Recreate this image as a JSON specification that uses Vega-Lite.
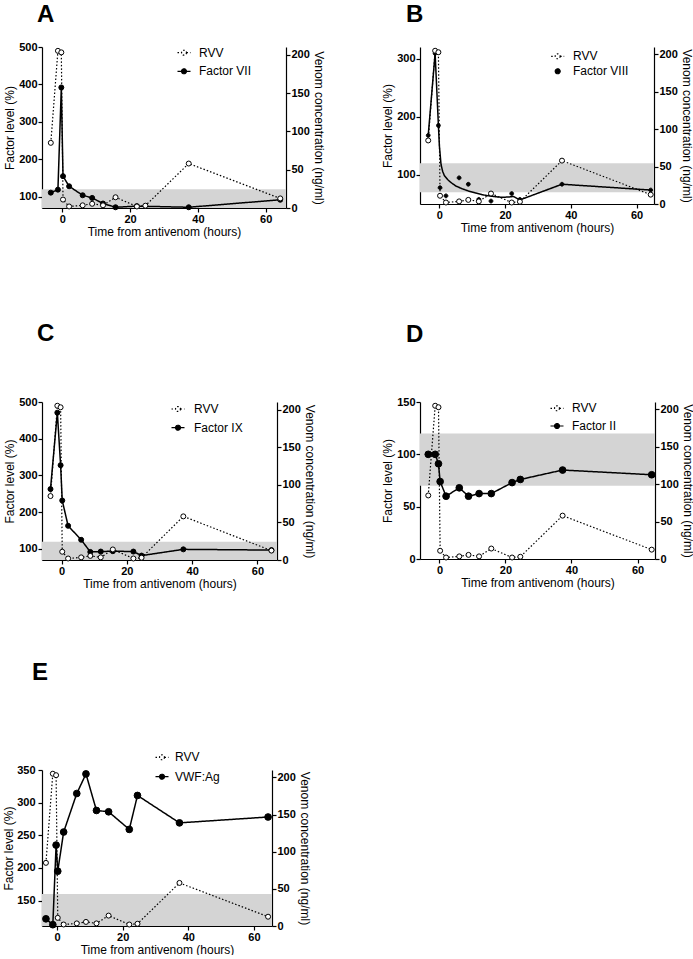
{
"$schema": "https://vega.github.io/schema/vega-lite/v6.json",
"padding": {"left": 2, "top": 3, "right": 0, "bottom": 0},
"datasets": {
"rvv": [
{"t":-3.4,"v":85,"series":"RVV"},{"t":-1.3,"v":205,"series":"RVV"},{"t":-0.3,"v":203,"series":"RVV"},{"t":0.2,"v":11,"series":"RVV"},{"t":2,"v":2,"series":"RVV"},{"t":6,"v":3.5,"series":"RVV"},{"t":8.8,"v":5.5,"series":"RVV"},{"t":12,"v":3.5,"series":"RVV"},{"t":15.7,"v":14,"series":"RVV"},{"t":22,"v":2,"series":"RVV"},{"t":24.5,"v":3,"series":"RVV"},{"t":37.3,"v":58,"series":"RVV"},{"t":64.3,"v":12.5,"series":"RVV"}],
"factorA": [
{"t":-3.4,"v":111,"series":"Factor VII"},{"t":-1.3,"v":119,"series":"Factor VII"},{"t":-0.3,"v":392,"series":"Factor VII"},{"t":0.2,"v":155,"series":"Factor VII"},{"t":2,"v":128,"series":"Factor VII"},{"t":6,"v":104,"series":"Factor VII"},{"t":8.8,"v":97,"series":"Factor VII"},{"t":12,"v":82,"series":"Factor VII"},{"t":15.7,"v":72,"series":"Factor VII"},{"t":22,"v":75,"series":"Factor VII"},{"t":37.3,"v":72,"series":"Factor VII"},{"t":64.3,"v":92,"series":"Factor VII"}],
"factorB": [
{"t":-3.4,"v":168,"series":"Factor VIII"},{"t":-1.3,"v":309,"series":"Factor VIII"},{"t":-0.3,"v":185,"series":"Factor VIII"},{"t":0.2,"v":78,"series":"Factor VIII"},{"t":2,"v":64,"series":"Factor VIII"},{"t":6,"v":95,"series":"Factor VIII"},{"t":8.8,"v":84,"series":"Factor VIII"},{"t":12,"v":58,"series":"Factor VIII"},{"t":15.7,"v":55,"series":"Factor VIII"},{"t":22,"v":68,"series":"Factor VIII"},{"t":24.5,"v":58,"series":"Factor VIII"},{"t":37.3,"v":84,"series":"Factor VIII"},{"t":64.3,"v":74,"series":"Factor VIII"}],
"curveB": [
{"t":-3.4,"v":168,"series":"Factor VIII"},{"t":-1.3,"v":309,"series":"Factor VIII"},{"t":-0.3,"v":185,"series":"Factor VIII"},{"t":0,"v":150,"series":"Factor VIII"},{"t":0.5,"v":118,"series":"Factor VIII"},{"t":1,"v":106,"series":"Factor VIII"},{"t":1.5,"v":99,"series":"Factor VIII"},{"t":2.5,"v":92,"series":"Factor VIII"},{"t":3.5,"v":87,"series":"Factor VIII"},{"t":5,"v":81,"series":"Factor VIII"},{"t":7,"v":76,"series":"Factor VIII"},{"t":9,"v":72,"series":"Factor VIII"},{"t":11,"v":69,"series":"Factor VIII"},{"t":13,"v":66,"series":"Factor VIII"},{"t":15,"v":64,"series":"Factor VIII"},{"t":17,"v":62.5,"series":"Factor VIII"},{"t":19,"v":61.5,"series":"Factor VIII"},{"t":21,"v":62,"series":"Factor VIII"},{"t":22.5,"v":63,"series":"Factor VIII"},{"t":24.5,"v":57,"series":"Factor VIII"},{"t":37.3,"v":84,"series":"Factor VIII"},{"t":64.3,"v":74,"series":"Factor VIII"}],
"factorC": [
{"t":-3.4,"v":263,"series":"Factor IX"},{"t":-1.3,"v":471,"series":"Factor IX"},{"t":-0.3,"v":328,"series":"Factor IX"},{"t":0.2,"v":232,"series":"Factor IX"},{"t":2,"v":163,"series":"Factor IX"},{"t":6,"v":125,"series":"Factor IX"},{"t":8.8,"v":92,"series":"Factor IX"},{"t":12,"v":93,"series":"Factor IX"},{"t":15.7,"v":94,"series":"Factor IX"},{"t":22,"v":93,"series":"Factor IX"},{"t":24.5,"v":82,"series":"Factor IX"},{"t":37.3,"v":99,"series":"Factor IX"},{"t":64.3,"v":97,"series":"Factor IX"}],
"factorD": [
{"t":-3.4,"v":100,"series":"Factor II"},{"t":-1.3,"v":100,"series":"Factor II"},{"t":-0.3,"v":91,"series":"Factor II"},{"t":0.2,"v":74,"series":"Factor II"},{"t":2,"v":60,"series":"Factor II"},{"t":6,"v":68,"series":"Factor II"},{"t":8.8,"v":60,"series":"Factor II"},{"t":12,"v":62.5,"series":"Factor II"},{"t":15.7,"v":62.5,"series":"Factor II"},{"t":22,"v":73,"series":"Factor II"},{"t":24.5,"v":76,"series":"Factor II"},{"t":37.3,"v":85,"series":"Factor II"},{"t":64.3,"v":80.5,"series":"Factor II"}],
"factorE": [
{"t":-3.4,"v":122,"series":"VWF:Ag"},{"t":-1.3,"v":113,"series":"VWF:Ag"},{"t":-0.3,"v":235,"series":"VWF:Ag"},{"t":0.2,"v":195,"series":"VWF:Ag"},{"t":2,"v":255,"series":"VWF:Ag"},{"t":6,"v":314,"series":"VWF:Ag"},{"t":8.8,"v":344,"series":"VWF:Ag"},{"t":12,"v":288,"series":"VWF:Ag"},{"t":15.7,"v":286,"series":"VWF:Ag"},{"t":22,"v":259,"series":"VWF:Ag"},{"t":24.5,"v":311,"series":"VWF:Ag"},{"t":37.3,"v":269,"series":"VWF:Ag"},{"t":64.3,"v":278,"series":"VWF:Ag"}]
},
"resolve": {"scale": {"strokeDash": "independent", "fill": "independent", "shape": "independent"}, "legend": {"strokeDash": "independent", "fill": "independent", "shape": "independent"}},
"vconcat": [
{"resolve": {"scale": {"strokeDash": "independent", "fill": "independent", "shape": "independent"}, "legend": {"strokeDash": "independent", "fill": "independent", "shape": "independent"}},
"vconcat": [
{"resolve": {"scale": {"strokeDash": "independent", "fill": "independent", "shape": "independent"}, "legend": {"strokeDash": "independent", "fill": "independent", "shape": "independent"}},
"hconcat": [
{
"width": 244, "height": 161,
"title": {"text": "A", "dx": -5, "offset": 14},
"resolve": {"scale": {"y": "independent"}},
"layer": [
{"layer": [
{"data": {"values": [{"lo": 70, "hi": 120}]}, "mark": {"type": "rect", "color": "#d4d4d4", "clip": true},
 "encoding": {"y": {"field": "lo", "type": "quantitative", "scale": {"domain": [70, 500], "nice": false, "zero": false}, "axis": {"values": [100,200,300,400,500], "tickCount": 20, "title": "Factor level (%)", "labelOverlap": false}}, "y2": {"field": "hi"}}},
{"data": {"name": "factorA"}, "mark": {"type": "line", "color": "black", "strokeWidth": 1.5},
 "encoding": {"x": {"field": "t", "type": "quantitative", "scale": {"domain": [-6, 66], "nice": false, "zero": false}, "axis": {"values": [0,20,40,60], "tickCount": 20, "title": "Time from antivenom (hours)", "labelOverlap": false}},
  "y": {"field": "v", "type": "quantitative"},
  "strokeDash": {"field": "series", "type": "nominal", "scale": {"domain": ["RVV","Factor VII"], "range": [[1.5,2],[1,0]]},
   "legend": {"orient": "none", "legendX": 134.5, "legendY": -1.8, "title": null, "symbolType": "M-1,0L-0.38,0M0.38,0L1,0M0.38,0A0.38,0.38,0,1,1,-0.38,0A0.38,0.38,0,1,1,0.38,0", "symbolSize": 169, "symbolStrokeColor": "black", "symbolStrokeWidth": 1.2, "labelOffset": 7.5, "rowPadding": 4.6, "padding": 0}}}},
{"data": {"name": "factorA"}, "mark": {"type": "point", "filled": true, "stroke": "black", "strokeWidth": 1, "size": 25, "opacity": 1},
 "encoding": {"x": {"field": "t", "type": "quantitative"}, "y": {"field": "v", "type": "quantitative"},
  "fill": {"field": "series", "type": "nominal", "scale": {"domain": ["RVV","Factor VII"], "range": ["white","black"]},
   "legend": {"orient": "none", "legendX": 134.5, "legendY": -1.8, "title": null, "symbolType": "M-1,0L-0.38,0M0.38,0L1,0M0.38,0A0.38,0.38,0,1,1,-0.38,0A0.38,0.38,0,1,1,0.38,0", "symbolSize": 169, "symbolStrokeColor": "black", "symbolStrokeWidth": 1.2, "labelOffset": 7.5, "rowPadding": 4.6, "padding": 0}}}}
]},
{"data": {"name": "rvv"}, "layer": [
{"mark": {"type": "line", "color": "black", "strokeWidth": 1.2},
 "encoding": {"x": {"field": "t", "type": "quantitative"}, "y": {"field": "v", "type": "quantitative", "scale": {"domain": [0, 210], "nice": false}, "axis": {"orient": "right", "values": [0,50,100,150,200], "tickCount": 20, "title": "Venom concentration (ng/ml)", "labelOverlap": false}},
  "strokeDash": {"field": "series", "type": "nominal", "scale": {"domain": ["RVV","Factor VII"], "range": [[1.5,2],[1,0]]}}}},
{"mark": {"type": "point", "filled": true, "stroke": "black", "strokeWidth": 1, "size": 25, "opacity": 1},
 "encoding": {"x": {"field": "t", "type": "quantitative"}, "y": {"field": "v", "type": "quantitative"},
  "fill": {"field": "series", "type": "nominal", "scale": {"domain": ["RVV","Factor VII"], "range": ["white","black"]}}}}
]}
]
},
{
"width": 234, "height": 157,
"title": {"text": "B", "dx": -14, "offset": 19},
"resolve": {"scale": {"y": "independent"}},
"layer": [
{"layer": [
{"data": {"values": [{"lo": 70, "hi": 120}]}, "mark": {"type": "rect", "color": "#d4d4d4", "clip": true},
 "encoding": {"y": {"field": "lo", "type": "quantitative", "scale": {"domain": [50, 320], "nice": false, "zero": false}, "axis": {"values": [100,200,300], "tickCount": 20, "title": "Factor level (%)", "labelOverlap": false}}, "y2": {"field": "hi"}}},
{"data": {"name": "curveB"}, "mark": {"type": "line", "color": "black", "strokeWidth": 1.5},
 "encoding": {"x": {"field": "t", "type": "quantitative", "scale": {"domain": [-5.9, 65.3], "nice": false, "zero": false}, "axis": {"values": [0,20,40,60], "tickCount": 20, "title": "Time from antivenom (hours)", "labelOverlap": false}},
  "y": {"field": "v", "type": "quantitative"},
  "strokeDash": {"field": "series", "type": "nominal", "scale": {"domain": ["RVV","Factor VIII"], "range": [[1.5,2],[1,0]]},
   "legend": {"orient": "none", "legendX": 130.2, "legendY": 1.8, "title": null, "symbolSize": 169, "symbolStrokeColor": "black", "symbolStrokeWidth": 1.2, "labelOffset": 7.8, "rowPadding": 1, "padding": 0}}}},
{"data": {"name": "factorB"}, "mark": {"type": "point", "filled": true, "stroke": "black", "strokeWidth": 1, "size": 100, "opacity": 1},
 "encoding": {"x": {"field": "t", "type": "quantitative"}, "y": {"field": "v", "type": "quantitative"},
  "fill": {"field": "series", "type": "nominal", "scale": {"domain": ["RVV","Factor VIII"], "range": ["white","black"]},
   "legend": {"orient": "none", "legendX": 130.2, "legendY": 1.8, "title": null, "symbolSize": 169, "symbolStrokeColor": "black", "symbolStrokeWidth": 1.2, "labelOffset": 7.8, "rowPadding": 1, "padding": 0}},
  "shape": {"field": "series", "type": "nominal", "scale": {"domain": ["RVV","Factor VIII"], "range": ["M-1,0L-0.38,0M0.38,0L1,0M0.38,0A0.38,0.38,0,1,1,-0.38,0A0.38,0.38,0,1,1,0.38,0", "M0.38,0A0.38,0.38,0,1,1,-0.38,0A0.38,0.38,0,1,1,0.38,0"]},
   "legend": {"orient": "none", "legendX": 130.2, "legendY": 1.8, "title": null, "symbolSize": 169, "symbolStrokeColor": "black", "symbolStrokeWidth": 1.2, "labelOffset": 7.8, "rowPadding": 1, "padding": 0}}}}
]},
{"data": {"name": "rvv"}, "layer": [
{"mark": {"type": "line", "color": "black", "strokeWidth": 1.2},
 "encoding": {"x": {"field": "t", "type": "quantitative"}, "y": {"field": "v", "type": "quantitative", "scale": {"domain": [0, 210], "nice": false}, "axis": {"orient": "right", "values": [0,50,100,150,200], "tickCount": 20, "title": "Venom concentration (ng/ml)", "labelOverlap": false}},
  "strokeDash": {"field": "series", "type": "nominal", "scale": {"domain": ["RVV","Factor VIII"], "range": [[1.5,2],[1,0]]}}}},
{"mark": {"type": "point", "filled": true, "stroke": "black", "strokeWidth": 1, "size": 25, "opacity": 1},
 "encoding": {"x": {"field": "t", "type": "quantitative"}, "y": {"field": "v", "type": "quantitative"},
  "fill": {"field": "series", "type": "nominal", "scale": {"domain": ["RVV","Factor VIII"], "range": ["white","black"]}}}}
]}
]
}
], "spacing": 56},
{"resolve": {"scale": {"strokeDash": "independent", "fill": "independent", "shape": "independent"}, "legend": {"strokeDash": "independent", "fill": "independent", "shape": "independent"}},
"hconcat": [
{
"width": 235, "height": 158,
"title": {"text": "C", "dx": -5, "offset": 50},
"resolve": {"scale": {"y": "independent"}},
"layer": [
{"layer": [
{"data": {"values": [{"lo": 70, "hi": 120}]}, "mark": {"type": "rect", "color": "#d4d4d4", "clip": true},
 "encoding": {"y": {"field": "lo", "type": "quantitative", "scale": {"domain": [70, 500], "nice": false, "zero": false}, "axis": {"values": [100,200,300,400,500], "tickCount": 20, "title": "Factor level (%)", "labelOverlap": false}}, "y2": {"field": "hi"}}},
{"data": {"name": "factorC"}, "mark": {"type": "line", "color": "black", "strokeWidth": 1.5},
 "encoding": {"x": {"field": "t", "type": "quantitative", "scale": {"domain": [-6, 66], "nice": false, "zero": false}, "axis": {"values": [0,20,40,60], "tickCount": 20, "title": "Time from antivenom (hours)", "labelOverlap": false}},
  "y": {"field": "v", "type": "quantitative"},
  "strokeDash": {"field": "series", "type": "nominal", "scale": {"domain": ["RVV","Factor IX"], "range": [[1.5,2],[1,0]]},
   "legend": {"orient": "none", "legendX": 128.5, "legendY": -0.5, "title": null, "symbolType": "M-1,0L-0.38,0M0.38,0L1,0M0.38,0A0.38,0.38,0,1,1,-0.38,0A0.38,0.38,0,1,1,0.38,0", "symbolSize": 169, "symbolStrokeColor": "black", "symbolStrokeWidth": 1.2, "labelOffset": 8.5, "rowPadding": 4.7, "padding": 0}}}},
{"data": {"name": "factorC"}, "mark": {"type": "point", "filled": true, "stroke": "black", "strokeWidth": 1, "size": 25, "opacity": 1},
 "encoding": {"x": {"field": "t", "type": "quantitative"}, "y": {"field": "v", "type": "quantitative"},
  "fill": {"field": "series", "type": "nominal", "scale": {"domain": ["RVV","Factor IX"], "range": ["white","black"]},
   "legend": {"orient": "none", "legendX": 128.5, "legendY": -0.5, "title": null, "symbolType": "M-1,0L-0.38,0M0.38,0L1,0M0.38,0A0.38,0.38,0,1,1,-0.38,0A0.38,0.38,0,1,1,0.38,0", "symbolSize": 169, "symbolStrokeColor": "black", "symbolStrokeWidth": 1.2, "labelOffset": 8.5, "rowPadding": 4.7, "padding": 0}}}}
]},
{"data": {"name": "rvv"}, "layer": [
{"mark": {"type": "line", "color": "black", "strokeWidth": 1.2},
 "encoding": {"x": {"field": "t", "type": "quantitative"}, "y": {"field": "v", "type": "quantitative", "scale": {"domain": [0, 210], "nice": false}, "axis": {"orient": "right", "values": [0,50,100,150,200], "tickCount": 20, "title": "Venom concentration (ng/ml)", "labelOverlap": false}},
  "strokeDash": {"field": "series", "type": "nominal", "scale": {"domain": ["RVV","Factor IX"], "range": [[1.5,2],[1,0]]}}}},
{"mark": {"type": "point", "filled": true, "stroke": "black", "strokeWidth": 1, "size": 25, "opacity": 1},
 "encoding": {"x": {"field": "t", "type": "quantitative"}, "y": {"field": "v", "type": "quantitative"},
  "fill": {"field": "series", "type": "nominal", "scale": {"domain": ["RVV","Factor IX"], "range": ["white","black"]}}}}
]}
]
},
{
"width": 235, "height": 157,
"title": {"text": "D", "dx": -14, "offset": 49},
"resolve": {"scale": {"y": "independent"}},
"layer": [
{"layer": [
{"data": {"values": [{"lo": 70, "hi": 120}]}, "mark": {"type": "rect", "color": "#d4d4d4", "clip": true},
 "encoding": {"y": {"field": "lo", "type": "quantitative", "scale": {"domain": [0, 150], "nice": false, "zero": false}, "axis": {"values": [0,50,100,150], "tickCount": 20, "title": "Factor level (%)", "labelOverlap": false}}, "y2": {"field": "hi"}}},
{"data": {"name": "factorD"}, "mark": {"type": "line", "color": "black", "strokeWidth": 1.5},
 "encoding": {"x": {"field": "t", "type": "quantitative", "scale": {"domain": [-5.9, 65.3], "nice": false, "zero": false}, "axis": {"values": [0,20,40,60], "tickCount": 20, "title": "Time from antivenom (hours)", "labelOverlap": false}},
  "y": {"field": "v", "type": "quantitative"},
  "strokeDash": {"field": "series", "type": "nominal", "scale": {"domain": ["RVV","Factor II"], "range": [[1.5,2],[1,0]]},
   "legend": {"orient": "none", "legendX": 129.5, "legendY": -1.2, "title": null, "symbolType": "M-1,0L-0.38,0M0.38,0L1,0M0.38,0A0.38,0.38,0,1,1,-0.38,0A0.38,0.38,0,1,1,0.38,0", "symbolSize": 169, "symbolStrokeColor": "black", "symbolStrokeWidth": 1.2, "labelOffset": 7.5, "rowPadding": 3.7, "padding": 0}}}},
{"data": {"name": "factorD"}, "mark": {"type": "point", "filled": true, "stroke": "black", "strokeWidth": 1, "size": 45, "opacity": 1},
 "encoding": {"x": {"field": "t", "type": "quantitative"}, "y": {"field": "v", "type": "quantitative"},
  "fill": {"field": "series", "type": "nominal", "scale": {"domain": ["RVV","Factor II"], "range": ["white","black"]},
   "legend": {"orient": "none", "legendX": 129.5, "legendY": -1.2, "title": null, "symbolType": "M-1,0L-0.38,0M0.38,0L1,0M0.38,0A0.38,0.38,0,1,1,-0.38,0A0.38,0.38,0,1,1,0.38,0", "symbolSize": 169, "symbolStrokeColor": "black", "symbolStrokeWidth": 1.2, "labelOffset": 7.5, "rowPadding": 3.7, "padding": 0}}}}
]},
{"data": {"name": "rvv"}, "layer": [
{"mark": {"type": "line", "color": "black", "strokeWidth": 1.2},
 "encoding": {"x": {"field": "t", "type": "quantitative"}, "y": {"field": "v", "type": "quantitative", "scale": {"domain": [0, 210], "nice": false}, "axis": {"orient": "right", "values": [0,50,100,150,200], "tickCount": 20, "title": "Venom concentration (ng/ml)", "labelOverlap": false}},
  "strokeDash": {"field": "series", "type": "nominal", "scale": {"domain": ["RVV","Factor II"], "range": [[1.5,2],[1,0]]}}}},
{"mark": {"type": "point", "filled": true, "stroke": "black", "strokeWidth": 1, "size": 25, "opacity": 1},
 "encoding": {"x": {"field": "t", "type": "quantitative"}, "y": {"field": "v", "type": "quantitative"},
  "fill": {"field": "series", "type": "nominal", "scale": {"domain": ["RVV","Factor II"], "range": ["white","black"]}}}}
]}
]
}
], "spacing": 65}
], "spacing": 85},
{
"width": 230, "height": 156,
"title": {"text": "E", "dx": -10, "offset": 65},
"resolve": {"scale": {"y": "independent"}},
"layer": [
{"layer": [
{"data": {"values": [{"lo": 50, "hi": 160}]}, "mark": {"type": "rect", "color": "#d4d4d4", "clip": true},
 "encoding": {"y": {"field": "lo", "type": "quantitative", "scale": {"domain": [111, 350], "nice": false, "zero": false}, "axis": {"values": [150,200,250,300,350], "tickCount": 20, "title": "Factor level (%)", "labelPadding": 3, "titlePadding": 1, "labelOverlap": false}}, "y2": {"field": "hi"}}},
{"data": {"name": "factorE"}, "mark": {"type": "line", "color": "black", "strokeWidth": 1.5},
 "encoding": {"x": {"field": "t", "type": "quantitative", "scale": {"domain": [-4.6, 65.5], "nice": false, "zero": false}, "axis": {"values": [0,20,40,60], "tickCount": 20, "title": "Time from antivenom (hours)", "labelOverlap": false}},
  "y": {"field": "v", "type": "quantitative"},
  "strokeDash": {"field": "series", "type": "nominal", "scale": {"domain": ["RVV","VWF:Ag"], "range": [[1.5,2],[1,0]]},
   "legend": {"orient": "none", "legendX": 112.5, "legendY": -20.2, "title": null, "symbolType": "M-1,0L-0.38,0M0.38,0L1,0M0.38,0A0.38,0.38,0,1,1,-0.38,0A0.38,0.38,0,1,1,0.38,0", "symbolSize": 169, "symbolStrokeColor": "black", "symbolStrokeWidth": 1.2, "labelOffset": 5.5, "rowPadding": 5.4, "padding": 0}}}},
{"data": {"name": "factorE"}, "mark": {"type": "point", "filled": true, "stroke": "black", "strokeWidth": 1, "size": 45, "opacity": 1},
 "encoding": {"x": {"field": "t", "type": "quantitative"}, "y": {"field": "v", "type": "quantitative"},
  "fill": {"field": "series", "type": "nominal", "scale": {"domain": ["RVV","VWF:Ag"], "range": ["white","black"]},
   "legend": {"orient": "none", "legendX": 112.5, "legendY": -20.2, "title": null, "symbolType": "M-1,0L-0.38,0M0.38,0L1,0M0.38,0A0.38,0.38,0,1,1,-0.38,0A0.38,0.38,0,1,1,0.38,0", "symbolSize": 169, "symbolStrokeColor": "black", "symbolStrokeWidth": 1.2, "labelOffset": 5.5, "rowPadding": 5.4, "padding": 0}}}}
]},
{"data": {"name": "rvv"}, "layer": [
{"mark": {"type": "line", "color": "black", "strokeWidth": 1.2},
 "encoding": {"x": {"field": "t", "type": "quantitative"}, "y": {"field": "v", "type": "quantitative", "scale": {"domain": [0, 210], "nice": false}, "axis": {"orient": "right", "values": [0,50,100,150,200], "tickCount": 20, "title": "Venom concentration (ng/ml)", "labelOverlap": false}},
  "strokeDash": {"field": "series", "type": "nominal", "scale": {"domain": ["RVV","VWF:Ag"], "range": [[1.5,2],[1,0]]}}}},
{"mark": {"type": "point", "filled": true, "stroke": "black", "strokeWidth": 1, "size": 25, "opacity": 1},
 "encoding": {"x": {"field": "t", "type": "quantitative"}, "y": {"field": "v", "type": "quantitative"},
  "fill": {"field": "series", "type": "nominal", "scale": {"domain": ["RVV","VWF:Ag"], "range": ["white","black"]}}}}
]}
]
}
],
"spacing": 71,
"config": {
"view": {"stroke": null},
"font": "Liberation Sans",
"axis": {"grid": false, "labelOverlap": false, "domainColor": "black", "tickColor": "black", "labelColor": "black", "titleColor": "black", "tickSize": 4, "domainWidth": 1.2, "tickWidth": 1.2, "labelFontSize": 11, "labelFontWeight": "bold", "titleFontSize": 12, "titleFontWeight": "normal", "labelPadding": 1, "titlePadding": 2, "labelFont": "Liberation Sans", "titleFont": "Liberation Sans"},
"title": {"fontSize": 24, "fontWeight": "bold", "anchor": "start", "frame": "group", "color": "black", "font": "Liberation Sans"},
"legend": {"labelFontSize": 12, "labelColor": "black", "labelFont": "Liberation Sans"}
}
}
